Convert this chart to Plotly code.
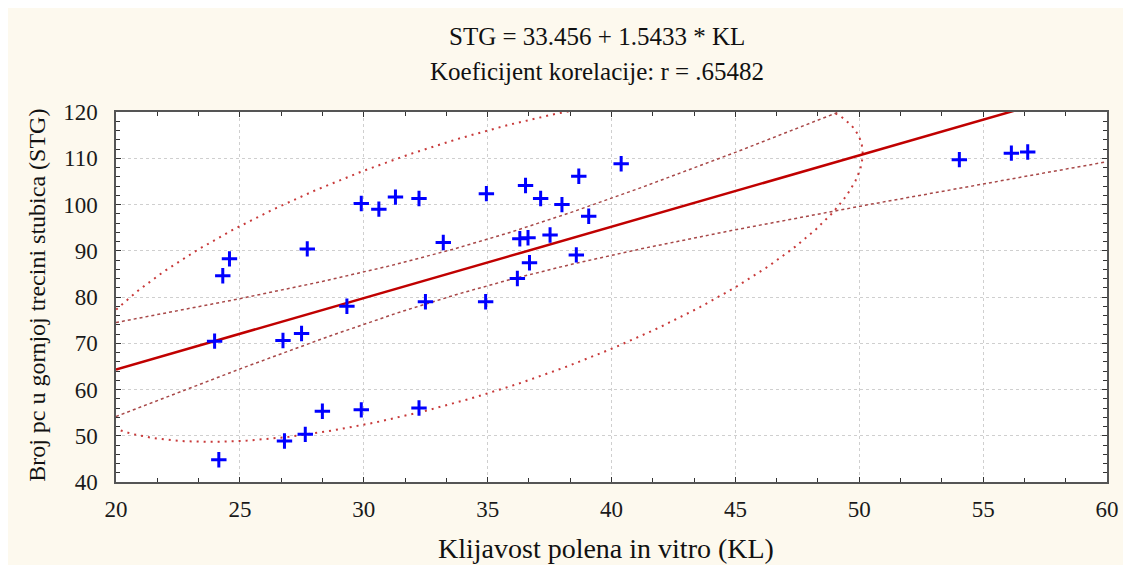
import numpy as np
import plotly.graph_objects as go

# Klijavost polena in vitro (KL) i broj pc u gornjoj trecini stubica (STG)
kl = [24.31, 24.58, 27.72, 29.90, 30.61, 31.28, 23.98, 26.74, 27.49, 29.32,
      24.15, 26.80, 27.64, 28.33, 29.90, 32.23, 34.95, 36.53, 37.14, 38.00,
      38.68, 40.39, 39.08, 33.21, 36.30, 36.63, 37.52, 38.58, 36.69, 36.20,
      32.49, 34.92, 32.23, 54.04, 56.14, 56.80]
stg = [84.6, 88.25, 90.4, 100.2, 99.0, 101.6, 70.45, 70.6, 72.1, 78.0,
       44.8, 48.85, 50.3, 55.3, 55.6, 101.3, 102.35, 104.1, 101.3, 99.98,
       106.1, 108.8, 97.45, 91.8, 92.6, 92.8, 93.4, 89.1, 87.4, 84.0,
       78.96, 78.96, 56.0, 109.7, 111.1, 111.35]

intercept = 33.456
slope = 1.5433
r_coef = ".65482"

x_ticks = [20, 25, 30, 35, 40, 45, 50, 55, 60]
y_ticks = [40, 50, 60, 70, 80, 90, 100, 110, 120]

x = np.array(kl)
y = np.array(stg)
n = len(x)

# regresijski pravac i 95% interval pouzdanosti
xs = np.linspace(20, 60, 241)
yhat = intercept + slope * xs
resid = y - (intercept + slope * x)
s = np.sqrt(np.sum(resid ** 2) / (n - 2))
sxx = np.sum((x - x.mean()) ** 2)
t_val = 2.032
hw = t_val * s * np.sqrt(1 / n + (xs - x.mean()) ** 2 / sxx)

# elipsa predikcije
cov = np.cov(np.vstack([x, y]))
L = np.linalg.cholesky(cov)
tt = np.linspace(0, 2 * np.pi, 361)
ell = np.array([x.mean(), y.mean()])[:, None] + 1.96 * L @ np.vstack([np.cos(tt), np.sin(tt)])

font = "Liberation Serif"
fig = go.Figure()
fig.add_trace(go.Scatter(x=ell[0], y=ell[1], mode="lines",
                         line=dict(color="#c83a3a", width=2, dash="2px,5px")))
fig.add_trace(go.Scatter(x=xs, y=yhat + hw, mode="lines",
                         line=dict(color="#a84848", width=1.5, dash="3px,3px")))
fig.add_trace(go.Scatter(x=xs, y=yhat - hw, mode="lines",
                         line=dict(color="#a84848", width=1.5, dash="3px,3px")))
fig.add_trace(go.Scatter(x=xs, y=yhat, mode="lines",
                         line=dict(color="#c00000", width=2.5)))
fig.add_trace(go.Scatter(x=kl, y=stg, mode="markers",
                         marker=dict(symbol="cross-thin", size=11, color="#0000ff",
                                     line=dict(color="#0000ff", width=3))))

axis_common = dict(
    showline=True, linecolor="#555555", linewidth=1.5, mirror="allticks",
    ticks="inside", ticklen=5, tickcolor="#333333",
    showgrid=True, gridcolor="#cfcfcf", griddash="dot", gridwidth=1,
    zeroline=False, tickfont=dict(family=font, size=23, color="#1a1a1a"),
)
fig.update_xaxes(range=[20, 60], tickvals=x_ticks, ticklabelstandoff=6,
                 minor=dict(dtick=5 / 3, tick0=20, ticks="inside", ticklen=4,
                            tickcolor="#333333", showgrid=False),
                 **axis_common)
fig.update_yaxes(range=[40, 120], tickvals=y_ticks, ticklabelstandoff=12,
                 minor=dict(dtick=2, tick0=40, ticks="inside", ticklen=4,
                            tickcolor="#333333", showgrid=False),
                 **axis_common)

title_font = dict(family=font, size=25, color="#111111")
fig.add_annotation(text="STG = %s + %s * KL" % (intercept, slope), x=0.485, y=1.203,
                   xref="paper", yref="paper", showarrow=False,
                   xanchor="center", yanchor="middle", font=title_font)
fig.add_annotation(text="Koeficijent korelacije: r = %s" % r_coef, x=0.485, y=1.109,
                   xref="paper", yref="paper", showarrow=False,
                   xanchor="center", yanchor="middle", font=title_font)
fig.add_annotation(text="Klijavost polena in vitro (KL)", x=0.494, y=-0.18,
                   xref="paper", yref="paper", showarrow=False,
                   xanchor="center", yanchor="middle",
                   font=dict(family=font, size=28, color="#111111"))
fig.add_annotation(text="Broj pc u gornjoj trecini stubica (STG)", x=-0.08, y=0.505,
                   xref="paper", yref="paper", showarrow=False, textangle=-90,
                   xanchor="center", yanchor="middle",
                   font=dict(family=font, size=24, color="#111111"))

fig.update_layout(
    width=1123, height=557,
    margin=dict(l=108, r=24, t=104, b=83),
    paper_bgcolor="#fdf9ee",
    plot_bgcolor="white",
    showlegend=False,
)
fig.write_html("out.html")
